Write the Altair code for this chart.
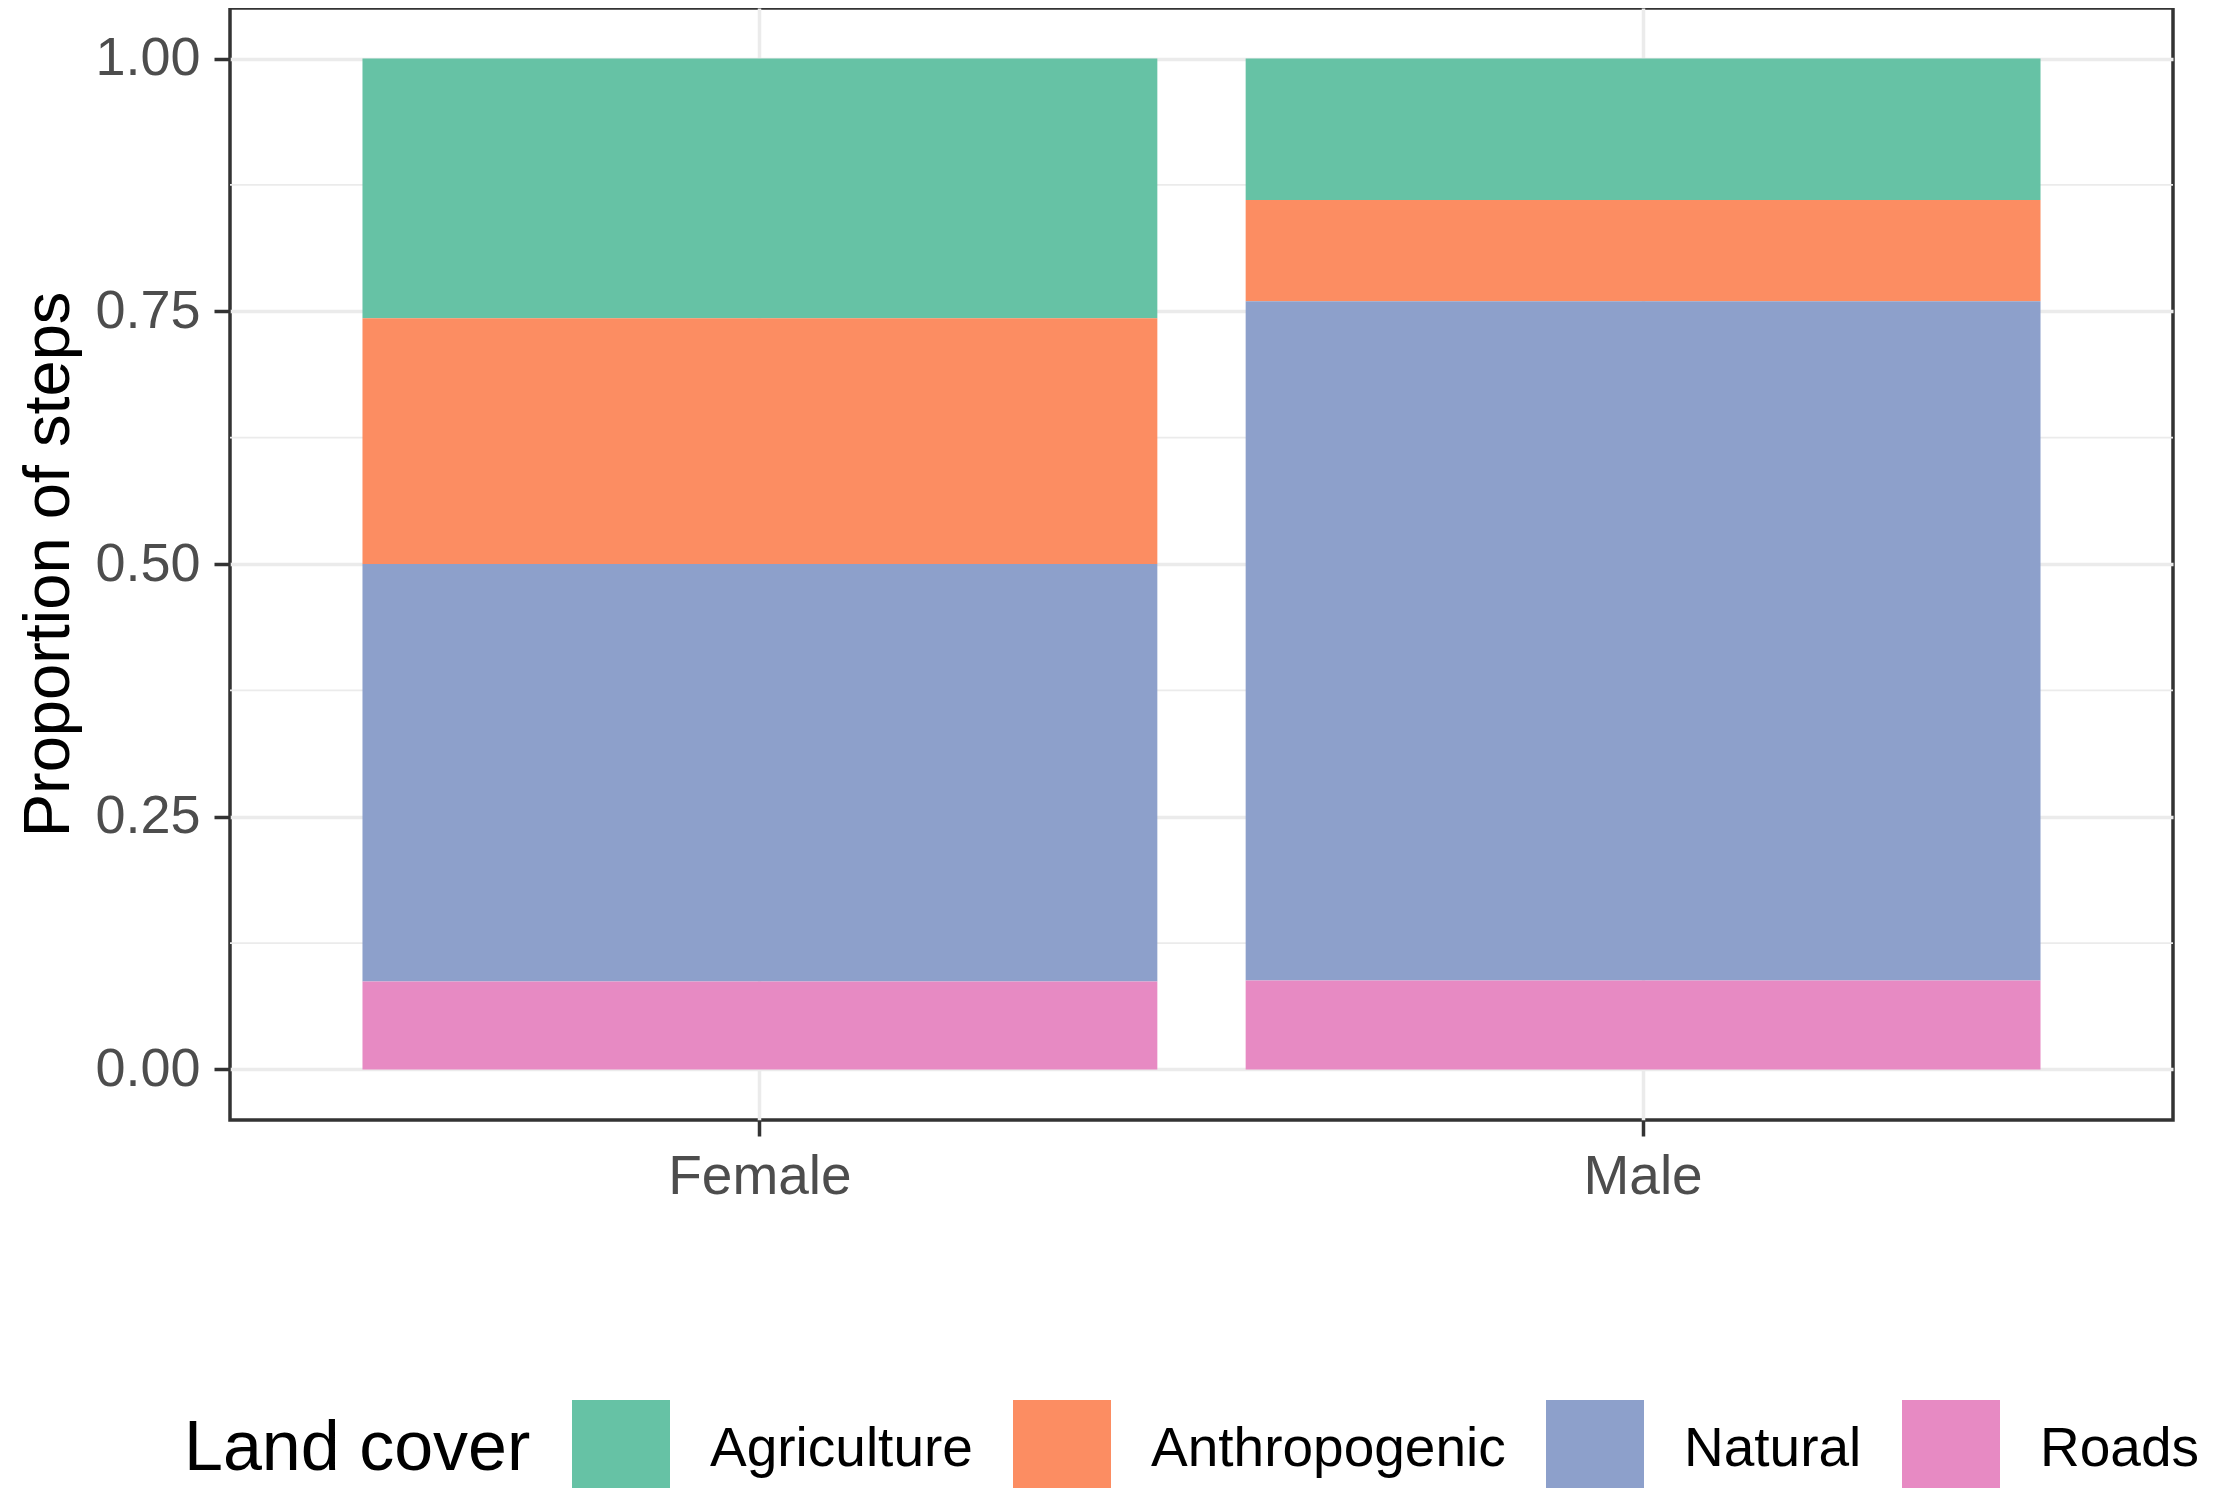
import altair as alt
import pandas as pd

sexes = ["Female", "Male"]
covers = ["Agriculture", "Anthropogenic", "Natural", "Roads"]
female_vals = [0.257, 0.243, 0.413, 0.087]
male_vals = [0.140, 0.100, 0.672, 0.088]
stack_rank = [3, 2, 1, 0]  # Roads at bottom, Agriculture on top
colors = ["#66C2A5", "#FC8D62", "#8DA0CB", "#E78AC3"]
y_ticks = [0.0, 0.25, 0.5, 0.75, 1.0]
y_minor = [0.125, 0.375, 0.625, 0.875]

rows = []
for s, vals in zip(sexes, [female_vals, male_vals]):
    for c, v, r in zip(covers, vals, stack_rank):
        rows.append({"sex": s, "cover": c, "prop": v, "rank": r})
df = pd.DataFrame(rows)
minor_df = pd.DataFrame({"y": y_minor})

FONT = "Liberation Sans"
W, H = 1943, 1112

yscale = alt.Scale(domain=[-0.05, 1.05], nice=False, zero=False)

minor = alt.Chart(minor_df).mark_rule(color="#EBEBEB", strokeWidth=1.8).encode(
    y=alt.Y("y:Q", scale=yscale)
)

bars = alt.Chart(df).mark_bar(stroke=None).encode(
    x=alt.X("sex:N", sort=sexes,
            scale=alt.Scale(paddingInner=0.1, paddingOuter=0.15),
            axis=alt.Axis(title=None, labelAngle=0, labelFontSize=55, labelColor="#4D4D4D",
                          labelPadding=14, tickSize=16, tickWidth=3.5, tickColor="#333333",
                          grid=True, gridColor="#EBEBEB", gridWidth=3.5, bandPosition=0.5,
                          domain=False, labelFont=FONT, labelLimit=1000)),
    y=alt.Y("prop:Q", stack="zero", scale=yscale,
            axis=alt.Axis(title="Proportion of steps", values=y_ticks, format=".2f",
                          labelFontSize=54, labelColor="#4D4D4D", labelPadding=14,
                          tickSize=16, tickWidth=3.5, tickColor="#333333",
                          grid=True, gridColor="#EBEBEB", gridWidth=3.5, domain=False,
                          titleFontSize=65, titleFontWeight="normal", titleColor="#000000",
                          titleX=-162, titleY=H / 2, titleBaseline="alphabetic",
                          titleAlign="center", titleAngle=270, labelFont=FONT, titleFont=FONT,
                          titleLimit=2000)),
    color=alt.Color("cover:N", scale=alt.Scale(domain=covers, range=colors),
                    legend=alt.Legend(title="Land cover", orient="none", direction="horizontal",
                                      legendX=-46, legendY=1392, titleOrient="left",
                                      titleFontSize=70, titleFontWeight="normal",
                                      titleColor="#000000", titlePadding=41, titleLimit=2000,
                                      titleBaseline="middle", titleAnchor="middle",
                                      labelFontSize=55, labelColor="#000000", labelOffset=40,
                                      columnPadding=40, symbolType="square", symbolSize=9604,
                                      symbolStrokeWidth=0, symbolOpacity=1, padding=0,
                                      labelFont=FONT, titleFont=FONT, labelLimit=1000)),
    order=alt.Order("rank:Q", sort="ascending"),
)

chart = alt.layer(minor, bars).properties(
    width=W, height=H,
    autosize=alt.AutoSizeParams(type="none"),
    padding={"left": 222, "top": 0, "right": 36, "bottom": 368},
).configure(font=FONT).configure_view(stroke="#333333", strokeWidth=3.5)

chart.save("out.html", embed_options={"renderer": "svg", "actions": False})
